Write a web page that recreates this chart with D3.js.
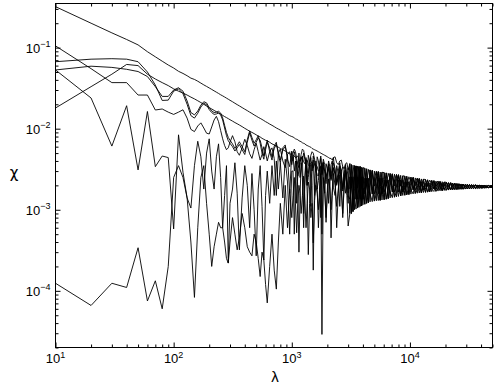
<!DOCTYPE html>
<html><head><meta charset="utf-8">
<script src="https://cdn.jsdelivr.net/npm/d3@7"></script>
<style>
body{margin:0;background:#fff}
svg{display:block}
text{font-family:"Liberation Sans",Arial,Helvetica,sans-serif;fill:#000}
</style>
</head><body>
<svg id="c" width="496" height="390"></svg>
<script>
// ---- data (lambda grid shared by every series) ----
const lambda = [10,20,30,40,50,60,70,80,90,100,
110,120,130,140,150,160,170,180,190,200,
210,220,230,240,250,260,270,280,290,300,
315,330,345,360,380,400,420,440,460,480,500,
520,540,560,580,600,620,650,680,710,740,770,800,840,880,920,960,1000,
1025,1050,1075,1100,1125,1150,1175,1200,1230,1260,1290,1320,1350,1380,1415,1450,1485,1520,1560,1600,
1640,1680,1720,1760,1800,1850,1900,1950,2000,2050,2100,2150,2200,2250,2325,2400,2475,2550,2625,2700,2775,2850,2925,3000,
3100,3200,3300,3400,3500,3600,3700,3800,3900,4000,
4150,4300,4450,4600,4800,5000,5200,5400,5600,5800,
6050,6300,6550,6800,7100,7400,7700,8000,8350,8700,
9050,9400,9800,10200,10650,11100,11550,12000,12500,13000,
13550,14100,14700,15300,15950,16600,17300,18000,18750,19500,
20300,21200,22100,23000,24000,25000,26000,27100,28200,29400,30600,31900,
33200,34600,36000,37500,39100,40700,42400,44200,46100,48000,49000,50000];

const chi1 = [0.32,0.200,0.152,0.126,0.108,0.089,0.077,0.068,0.061,0.056,
0.051,0.048,0.045,0.042,0.0405,0.0385,0.0365,0.0347,0.0332,0.0318,
0.0305,0.0293,0.0282,0.0272,0.0262,0.0254,0.0246,0.0238,0.0231,0.0224,
0.0215,0.0206,0.0198,0.0191,0.0182,0.0174,0.0167,0.0160,0.0154,0.0148,0.0143,
0.0138,0.0134,0.0130,0.0126,0.0122,0.0119,0.0114,0.0110,0.0106,0.0102,0.0099,0.0096,0.0092,0.0089,0.0085,0.0082,0.0080,
0.0079,0.0077,0.0075,0.0074,0.0073,0.0071,0.0070,0.0069,0.0067,0.0066,0.0065,0.0063,0.0062,0.0061,0.0060,0.0059,0.0057,0.0056,0.0055,0.0054,
0.0053,0.0052,0.0051,0.0050,0.0049,0.0048,0.0047,0.0046,0.0045,0.0044,0.0043,0.0043,0.0041,0.0044,0.0045,0.0038,0.0036,0.0040,0.0041,0.0034,0.0032,0.0037,0.0038,0.0031,
3.7e-3,1.85e-3,3.55e-3,2.55e-3,3.47e-3,1.85e-3,2.55e-3,3.4e-3,1.85e-3,3.3e-3,
3.25e-3,1.96e-3,3.15e-3,2.45e-3,3.05e-3,1.96e-3,2.45e-3,2.95e-3,1.96e-3,2.9e-3,
2.87e-3,1.97e-3,2.82e-3,2.33e-3,2.77e-3,1.97e-3,2.33e-3,2.7e-3,1.97e-3,2.62e-3,
2.6e-3,1.98e-3,2.55e-3,2.22e-3,2.5e-3,1.98e-3,2.22e-3,2.42e-3,1.98e-3,2.38e-3,
2.36e-3,1.96e-3,2.32e-3,2.12e-3,2.28e-3,1.96e-3,2.12e-3,2.23e-3,1.96e-3,2.2e-3,
2.18e-3,1.94e-3,2.15e-3,1.94e-3,2.12e-3,1.93e-3,2.09e-3,1.93e-3,2.07e-3,1.93e-3,2.05e-3,1.93e-3,
2.035e-3,1.93e-3,2.025e-3,1.93e-3,2.015e-3,1.93e-3,2.005e-3,1.93e-3,1.995e-3,1.93e-3,1.985e-3,1.95e-3];

const chi2 = [0.105,0.055,0.037,0.037,0.026,0.026,0.017,0.0175,0.016,0.015,
0.016,0.0171,0.0135,0.0098,0.0092,0.0108,0.0118,0.0102,0.0088,0.0086,
0.0105,0.0128,0.0142,0.0122,0.0095,0.0075,0.0062,0.0055,0.0058,0.0068,
0.0082,0.0069,0.0052,0.0047,0.0058,0.0074,0.0062,0.0049,0.0043,0.0055,0.0066,
0.0052,0.0041,0.0048,0.0060,0.0050,0.0040,0.0052,0.0058,0.0043,0.0015,0.0050,0.0056,0.0040,0.0033,0.0048,0.0052,0.0036,
0.0045,0.0030,0.0040,0.0012,0.0028,0.0050,0.0025,0.0032,0.0046,0.0009,0.0026,0.0044,0.0020,0.0047,0.0040,0.0011,0.0030,0.0041,0.0015,0.0022,
0.0045,0.0040,0.0030,0.0008,0.0038,0.0021,0.0016,0.0037,0.0032,0.0012,0.0025,0.0036,0.0040,0.0019,0.0015,0.0035,0.0028,0.0011,0.0030,0.0034,0.0022,0.0016,0.0025,0.0033,
0.9e-3,2.55e-3,0.95e-3,1.85e-3,3.47e-3,1.05e-3,1.35e-3,2.55e-3,1.12e-3,1.85e-3,
1.17e-3,2.45e-3,1.22e-3,1.96e-3,3.05e-3,1.28e-3,1.57e-3,2.45e-3,1.31e-3,1.96e-3,
1.33e-3,2.33e-3,1.37e-3,1.97e-3,2.77e-3,1.43e-3,1.66e-3,2.33e-3,1.48e-3,1.97e-3,
1.51e-3,2.22e-3,1.54e-3,1.98e-3,2.5e-3,1.59e-3,1.76e-3,2.22e-3,1.62e-3,1.98e-3,
1.64e-3,2.12e-3,1.66e-3,1.96e-3,2.28e-3,1.69e-3,1.8e-3,2.12e-3,1.72e-3,1.96e-3,
2.18e-3,1.75e-3,2.15e-3,1.76e-3,2.12e-3,1.78e-3,2.09e-3,1.79e-3,2.07e-3,1.8e-3,2.05e-3,1.81e-3,
2.035e-3,1.82e-3,2.025e-3,1.83e-3,2.015e-3,1.84e-3,2.005e-3,1.85e-3,1.995e-3,1.86e-3,1.985e-3,1.9e-3];

const chi3 = [0.067,0.072,0.073,0.072,0.067,0.050,0.0345,0.0223,0.0225,0.029,
0.031,0.027,0.020,0.0145,0.0135,0.0155,0.0185,0.0205,0.0198,0.0172,
0.0158,0.0150,0.0152,0.0156,0.0148,0.0128,0.0102,0.0082,0.0071,0.0066,
0.0060,0.0053,0.0058,0.0064,0.0055,0.0048,0.0068,0.0089,0.0072,0.0061,0.0068,
0.0077,0.0072,0.0058,0.0046,0.0055,0.0068,0.0058,0.0045,0.0057,0.0064,0.0052,0.0041,0.0055,0.0060,0.0046,0.0016,0.0050,
0.0050,0.0056,0.0052,0.0043,0.0036,0.0033,0.0040,0.0048,0.0056,0.0054,0.0045,0.0036,0.0030,0.0028,0.0038,0.0047,0.0052,0.0050,0.0042,0.0031,
0.0027,0.0026,0.0038,0.0046,0.0030,0.0042,0.0036,0.0024,0.0030,0.0040,0.0034,0.0026,0.0035,0.0044,0.0030,0.0022,0.0030,0.0038,0.0027,0.0019,0.0028,0.0036,0.0024,0.0018,
1.85e-3,3.6e-3,0.95e-3,2.55e-3,1.35e-3,3.45e-3,1.85e-3,1.1e-3,3.35e-3,1.35e-3,
1.96e-3,3.2e-3,1.22e-3,2.45e-3,1.57e-3,3.0e-3,1.96e-3,1.3e-3,2.92e-3,1.57e-3,
1.97e-3,2.85e-3,1.37e-3,2.33e-3,1.66e-3,2.75e-3,1.97e-3,1.46e-3,2.66e-3,1.66e-3,
1.98e-3,2.58e-3,1.54e-3,2.22e-3,1.76e-3,2.47e-3,1.98e-3,1.61e-3,2.4e-3,1.76e-3,
1.96e-3,2.34e-3,1.66e-3,2.12e-3,1.8e-3,2.26e-3,1.96e-3,1.71e-3,2.22e-3,1.8e-3,
1.94e-3,1.75e-3,2.15e-3,1.94e-3,1.77e-3,2.1e-3,1.94e-3,1.79e-3,2.07e-3,1.93e-3,1.805e-3,2.04e-3,
1.93e-3,1.82e-3,2.025e-3,1.93e-3,1.835e-3,2.01e-3,1.93e-3,1.85e-3,1.995e-3,1.93e-3,1.865e-3,1.97e-3];

const chi4 = [0.053,0.059,0.057,0.054,0.0507,0.044,0.033,0.025,0.025,0.030,
0.032,0.029,0.022,0.0158,0.0148,0.0165,0.0195,0.0215,0.0208,0.0182,
0.0166,0.0158,0.0160,0.0164,0.0156,0.0136,0.0110,0.0090,0.0078,0.0072,
0.0065,0.0057,0.0062,0.0069,0.0060,0.0052,0.0073,0.0094,0.0078,0.0066,0.0073,
0.0082,0.0066,0.0050,0.0042,0.0060,0.0072,0.0052,0.0041,0.0061,0.0068,0.0047,0.0038,0.0058,0.0063,0.0042,0.0034,0.0053,
0.0040,0.0052,0.0045,0.0038,0.0026,0.0030,0.0038,0.0045,0.0040,0.0050,0.0042,0.0032,0.0020,0.0025,0.0036,0.0044,0.0030,0.0046,0.0038,0.0028,
0.0018,0.0023,0.0034,0.0043,0.0027,0.0039,0.0030,0.0021,0.0028,0.0037,0.0030,0.0023,0.0028,0.0038,0.0032,0.0020,0.0026,0.0035,0.0030,0.0017,0.0024,0.0034,0.0026,0.0015,
1.35e-3,1.85e-3,2.55e-3,1.0e-3,3.47e-3,1.35e-3,1.85e-3,3.4e-3,1.12e-3,2.55e-3,
1.57e-3,1.96e-3,2.45e-3,1.25e-3,3.05e-3,1.57e-3,1.96e-3,2.95e-3,1.31e-3,2.45e-3,
1.66e-3,1.97e-3,2.33e-3,1.4e-3,2.77e-3,1.66e-3,1.97e-3,2.7e-3,1.48e-3,2.33e-3,
1.76e-3,1.98e-3,2.22e-3,1.56e-3,2.5e-3,1.76e-3,1.98e-3,2.42e-3,1.62e-3,2.22e-3,
1.8e-3,1.96e-3,2.12e-3,1.67e-3,2.28e-3,1.8e-3,1.96e-3,2.23e-3,1.72e-3,2.12e-3,
1.74e-3,1.94e-3,2.15e-3,1.76e-3,1.94e-3,2.1e-3,1.785e-3,1.93e-3,2.07e-3,1.8e-3,1.93e-3,2.04e-3,
1.815e-3,1.93e-3,2.025e-3,1.83e-3,1.93e-3,2.01e-3,1.845e-3,1.93e-3,1.995e-3,1.86e-3,1.93e-3,1.98e-3];

const chi5 = [0.053,0.0239,0.0061,0.0192,0.0031,0.0163,0.0034,0.0046,0.0044,0.00058,
0.0084,0.0029,0.0014,0.00105,0.0035,0.0070,0.0045,0.0018,0.0050,0.0075,
0.0030,0.0018,0.0045,0.0065,0.0025,0.0006,0.0015,0.0035,0.00022,0.0012,
0.0018,0.0038,0.0016,0.00032,0.0014,0.0035,0.0020,0.0006,0.0028,0.0010,0.00027,
0.0018,0.0035,0.0011,0.00024,0.0015,0.0030,0.0012,0.0035,0.0015,0.0040,0.0018,0.0038,0.0014,0.0042,0.0022,0.0005,0.0030,
0.0030,0.0005,0.0022,0.0040,0.0018,0.0003,0.0015,0.0038,0.0025,0.0006,0.0020,0.0042,0.0016,0.00028,0.0012,0.0036,0.0020,0.00018,0.0024,0.0040,
0.0020,0.0006,0.0014,0.0035,0.0005,0.0038,0.0020,0.0007,0.0018,0.0036,0.0025,0.00045,0.0015,0.0033,0.0028,0.0006,0.0016,0.0034,0.0022,0.0008,0.0020,0.0031,0.0018,0.0012,
2.55e-3,0.9e-3,1.35e-3,3.5e-3,1.85e-3,1.05e-3,3.42e-3,1.35e-3,2.55e-3,1.15e-3,
2.45e-3,1.2e-3,1.57e-3,3.1e-3,1.96e-3,1.28e-3,2.97e-3,1.57e-3,2.45e-3,1.32e-3,
2.33e-3,1.35e-3,1.66e-3,2.8e-3,1.97e-3,1.43e-3,2.72e-3,1.66e-3,2.33e-3,1.5e-3,
2.22e-3,1.53e-3,1.76e-3,2.52e-3,1.98e-3,1.59e-3,2.45e-3,1.76e-3,2.22e-3,1.63e-3,
2.12e-3,1.65e-3,1.8e-3,2.3e-3,1.96e-3,1.69e-3,2.25e-3,1.8e-3,2.12e-3,1.73e-3,
2.18e-3,1.94e-3,1.755e-3,2.13e-3,1.94e-3,1.78e-3,2.09e-3,1.93e-3,1.795e-3,2.06e-3,1.93e-3,1.81e-3,
2.035e-3,1.93e-3,1.825e-3,2.02e-3,1.93e-3,1.84e-3,2.005e-3,1.93e-3,1.855e-3,1.99e-3,1.93e-3,1.88e-3];

const chi6 = [0.018,0.033,0.047,0.062,0.060,0.047,0.041,0.037,0.034,0.031,
0.029,0.0275,0.026,0.0245,0.0233,0.0221,0.021,0.020,0.019,0.0182,
0.0175,0.0168,0.0162,0.0156,0.0151,0.0146,0.0141,0.0137,0.0133,0.0129,
0.0124,0.0119,0.0115,0.0111,0.0106,0.0101,0.0097,0.0093,0.0090,0.0087,0.0084,
0.0081,0.0079,0.0076,0.0074,0.0072,0.0071,0.0068,0.0065,0.0063,0.0061,0.0059,0.0057,0.0055,0.0053,0.0051,0.0049,0.0048,
0.0047,0.0046,0.0044,0.0045,0.0046,0.0042,0.0040,0.0043,0.0044,0.0039,0.0037,0.0040,0.0041,0.0036,0.0034,0.0038,0.0039,0.0033,0.0037,0.0036,
0.0034,0.0030,0.0031,0.0034,0.0028,0.0033,0.0030,0.0026,0.0029,0.0032,0.0028,0.0024,0.0030,0.0033,0.0027,0.0021,0.0026,0.0031,0.0024,0.0018,0.0025,0.0030,0.0022,0.0016,
3.7e-3,0.9e-3,1.85e-3,3.5e-3,1.35e-3,2.55e-3,1.07e-3,3.4e-3,1.85e-3,1.35e-3,
3.25e-3,1.2e-3,1.96e-3,3.1e-3,1.57e-3,2.45e-3,1.29e-3,2.95e-3,1.96e-3,1.57e-3,
2.87e-3,1.35e-3,1.97e-3,2.8e-3,1.66e-3,2.33e-3,1.44e-3,2.7e-3,1.97e-3,1.66e-3,
2.6e-3,1.53e-3,1.98e-3,2.52e-3,1.76e-3,2.22e-3,1.6e-3,2.42e-3,1.98e-3,1.76e-3,
2.36e-3,1.65e-3,1.96e-3,2.3e-3,1.8e-3,2.12e-3,1.7e-3,2.23e-3,1.96e-3,1.8e-3,
1.74e-3,2.16e-3,1.755e-3,2.13e-3,1.77e-3,2.1e-3,1.785e-3,2.08e-3,1.795e-3,2.06e-3,1.805e-3,2.04e-3,
1.815e-3,2.03e-3,1.825e-3,2.02e-3,1.835e-3,2.01e-3,1.845e-3,2.0e-3,1.855e-3,1.99e-3,1.865e-3,1.96e-3];

const chi7 = [0.000124,0.000066,0.000124,0.00011,0.00034,0.000075,0.000133,0.00006,0.0002,0.0025,
0.0035,0.0025,0.0014,0.0004,0.000083,0.0006,0.0025,0.0035,0.0012,0.0005,
0.0002,0.00035,0.0005,0.0007,0.0006,0.0006,0.0004,0.00025,0.00022,0.0004,
0.0008,0.0005,0.00032,0.00045,0.0009,0.0006,0.00035,0.0003,0.00027,0.0005,0.0004,
0.00025,0.00015,0.0003,0.00024,0.00012,0.000071,0.0002,0.0005,0.00018,0.000105,0.0004,0.0012,0.0005,0.002,0.0006,0.0018,0.0008,
0.0015,0.0025,0.0012,0.00052,0.0012,0.002,0.0016,0.0009,0.0015,0.0026,0.0014,0.0006,0.0012,0.0022,0.0018,0.0008,0.0012,0.00039,0.0013,0.002,
0.0016,0.001,0.0018,0.0028,0.000029,0.0025,0.0017,0.0008,0.0016,0.0024,0.0018,0.001,0.0017,0.0028,0.0020,0.0011,0.0018,0.0027,0.0017,0.0009,0.0020,0.0029,0.0015,0.00063,
0.9e-3,3.6e-3,1.85e-3,1.35e-3,1.02e-3,2.55e-3,3.42e-3,1.85e-3,1.12e-3,3.3e-3,
1.17e-3,3.2e-3,1.96e-3,1.57e-3,1.26e-3,2.45e-3,2.97e-3,1.96e-3,1.31e-3,2.9e-3,
1.33e-3,2.85e-3,1.97e-3,1.66e-3,1.41e-3,2.33e-3,2.72e-3,1.97e-3,1.48e-3,2.62e-3,
1.51e-3,2.58e-3,1.98e-3,1.76e-3,1.57e-3,2.22e-3,2.45e-3,1.98e-3,1.62e-3,2.38e-3,
1.64e-3,2.34e-3,1.96e-3,1.8e-3,1.68e-3,2.12e-3,2.25e-3,1.96e-3,1.72e-3,2.2e-3,
1.94e-3,2.16e-3,1.755e-3,1.94e-3,2.12e-3,1.78e-3,1.93e-3,2.08e-3,1.795e-3,1.93e-3,2.05e-3,1.81e-3,
1.93e-3,2.03e-3,1.825e-3,1.93e-3,2.015e-3,1.84e-3,1.93e-3,2.0e-3,1.855e-3,1.93e-3,1.985e-3,1.89e-3];

const seriesList = [chi7, chi5, chi2, chi4, chi3, chi6, chi1];
const xMajorExp = [1,2,3,4];
const yMajorExp = [-4,-3,-2,-1];
const xLabel = "λ";
const yLabel = "χ";

// ---- layout ----
const W = 496, H = 390;
const L = 55.5, R = 492.5, T = 3.5, B = 347.5;
const x = d3.scaleLog().domain([10, 50000]).range([L, R]);
const y = d3.scaleLog().domain([2e-5, 0.35]).range([B, T]);
const svg = d3.select("#c");

svg.append("defs").append("clipPath").attr("id","clip")
  .append("rect").attr("x",L).attr("y",T).attr("width",R-L).attr("height",B-T);

// lines
const line = d3.line().x((d,i)=>x(lambda[i])).y(d=>y(d));
const gl = svg.append("g").attr("clip-path","url(#clip)");
seriesList.forEach(s=>{
  const n = Math.min(s.length, lambda.length);
  gl.append("path").datum(s.slice(0,n))
    .attr("d", line).attr("fill","none")
    .attr("stroke","#000").attr("stroke-width",0.9)
    .attr("stroke-linejoin","round");
});

// ticks
const xMajor = xMajorExp.map(e=>Math.pow(10,e));
const yMajor = yMajorExp.map(e=>Math.pow(10,e));
const xMinor = [], yMinor = [];
for (let e=1;e<=4;e++) for (let k=2;k<=9;k++){const v=k*Math.pow(10,e); if (v<=50000) xMinor.push(v);}
for (let e=-5;e<=-1;e++) for (let k=2;k<=9;k++){const v=k*Math.pow(10,e); if (v>=2e-5 && v<=0.35) yMinor.push(v);}

function ax(gen, vals, size, tr){
  const g = svg.append("g").attr("transform",tr)
    .call(gen.tickValues(vals).tickSizeInner(size).tickSizeOuter(0).tickFormat(""));
  g.select(".domain").remove();
  g.selectAll("line").attr("stroke","#000").attr("stroke-width",1);
  return g;
}
ax(d3.axisBottom(x), xMajor, -5, `translate(0,${B})`);
ax(d3.axisBottom(x), xMinor, -3, `translate(0,${B})`);
ax(d3.axisTop(x), xMajor, -5, `translate(0,${T})`);
ax(d3.axisTop(x), xMinor, -3, `translate(0,${T})`);
ax(d3.axisLeft(y), yMajor, -5, `translate(${L},0)`);
ax(d3.axisLeft(y), yMinor, -3, `translate(${L},0)`);
ax(d3.axisRight(y), yMajor, -5, `translate(${R},0)`);
ax(d3.axisRight(y), yMinor, -3, `translate(${R},0)`);

// box
svg.append("rect").attr("x",L).attr("y",T).attr("width",R-L).attr("height",B-T)
  .attr("fill","none").attr("stroke","#000").attr("stroke-width",1);

// tick labels
xMajorExp.forEach(e=>{
  const t = svg.append("text").attr("x", x(Math.pow(10,e))).attr("y", 363)
    .attr("text-anchor","middle").attr("font-size",13);
  t.append("tspan").text("10");
  t.append("tspan").attr("dy",-5.5).attr("font-size",9).text(String(e));
});
yMajorExp.forEach(e=>{
  const t = svg.append("text").attr("x", 50.5).attr("y", y(Math.pow(10,e))+5)
    .attr("text-anchor","end").attr("font-size",13);
  t.append("tspan").text("10");
  t.append("tspan").attr("dy",-5.5).attr("font-size",9).text(String(e).replace("-","\u2212"));
});

// axis titles
svg.append("text").attr("x", 275).attr("y", 382).attr("text-anchor","middle")
  .attr("font-size",15).text(xLabel);
svg.append("text").attr("x", 14).attr("y", 178).attr("text-anchor","middle")
  .style("font-family","'DejaVu Sans',sans-serif")
  .attr("font-size",15).text(yLabel);
</script>
</body></html>
